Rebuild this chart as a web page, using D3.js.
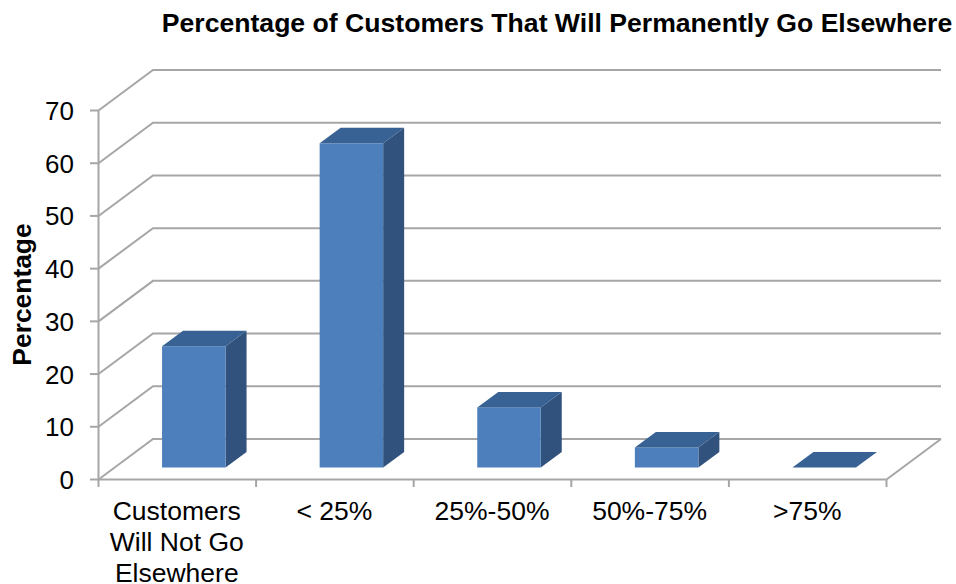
<!DOCTYPE html>
<html><head><meta charset="utf-8">
<script src="https://cdn.jsdelivr.net/npm/d3@7/dist/d3.min.js"></script>
<style>html,body{margin:0;background:#fff}svg{display:block}text{font-family:"Liberation Sans",Arial,sans-serif;fill:#000}</style>
</head><body><svg id="c" width="956" height="584"></svg>
<script>
const categories=[["Customers","Will Not Go","Elsewhere"],["< 25%"],["25%-50%"],["50%-75%"],[">75%"]];
const values=[23,61.5,11.4,3.8,0];
const ticks=[0,10,20,30,40,50,60,70];
const titleText="Percentage of Customers That Will Permanently Go Elsewhere";
const axisTitle="Percentage";

const svg=d3.select("#c");
const x=d3.scaleBand().domain(d3.range(categories.length)).range([98.5,886.5]);
const y=d3.scaleLinear().domain([0,70]).range([479.5,110.5]);
const DX=54.5,DY=-40.5;          // full floor depth
const bx=16.5,by=-12,bw=63.5,tx=21,ty=-15.5; // bar front offset, width, bar depth
const grid="#a6a6a6";

// gridlines and side wall
const g=svg.append("g").attr("fill","none").attr("stroke",grid).attr("stroke-width",2);
ticks.forEach(t=>{
  g.append("path").attr("d",d3.line()([[98.5,y(t)],[98.5+DX,y(t)+DY],[886.5+DX,y(t)+DY]]));
});
g.append("path").attr("d",d3.line()([[886.5,y(0)],[886.5+DX,y(0)+DY]]));
// axes
g.append("path").attr("d",d3.line()([[98.5,y(70)],[98.5,y(0)],[886.5,y(0)]]));
ticks.forEach(t=>g.append("path").attr("d",d3.line()([[90,y(t)],[98.5,y(t)]])));
d3.range(categories.length+1).forEach(i=>{
  const px=98.5+i*x.bandwidth();
  g.append("path").attr("d",d3.line()([[px,y(0)],[px,y(0)+7.5]]));
});

// bars
const bars=svg.append("g").selectAll("g").data(values).join("g");
const L=d3.line();
bars.each(function(v,i){
  const s=d3.select(this);
  const x0=x(i)+x.bandwidth()/2+bx-bw/2, x1=x0+bw;
  const yb=y(0)+by, yt=y(v)+by;
  if(v>0){
    s.append("path").attr("fill","#30527d").attr("d",L([[x1,yb],[x1+tx,yb+ty],[x1+tx,yt+ty],[x1,yt]])+"Z");
    s.append("rect").attr("fill","#4c7fbc").attr("x",x0).attr("y",yt).attr("width",bw).attr("height",yb-yt);
  }
  s.append("path").attr("fill","#386294").attr("d",L([[x0,yt],[x0+tx,yt+ty],[x1+tx,yt+ty],[x1,yt]])+"Z");
});

// tick labels
svg.append("g").selectAll("text").data(ticks).join("text")
  .attr("x",74).attr("y",t=>y(t)+9.5).attr("text-anchor","end").attr("font-size",26).text(t=>t);
// category labels
categories.forEach((lines,i)=>{
  lines.forEach((l,j)=>{
    svg.append("text").attr("x",x(i)+x.bandwidth()/2-0.5).attr("y",519.5+j*31)
      .attr("text-anchor","middle").attr("font-size",26.5).text(l);
  });
});
svg.append("text").attr("x",557).attr("y",32).attr("text-anchor","middle")
  .attr("font-size",26.6).attr("font-weight","bold").text(titleText);
svg.append("text").attr("transform","translate(31,294.5) rotate(-90)").attr("text-anchor","middle")
  .attr("font-size",26.4).attr("font-weight","bold").text(axisTitle);
</script></body></html>
